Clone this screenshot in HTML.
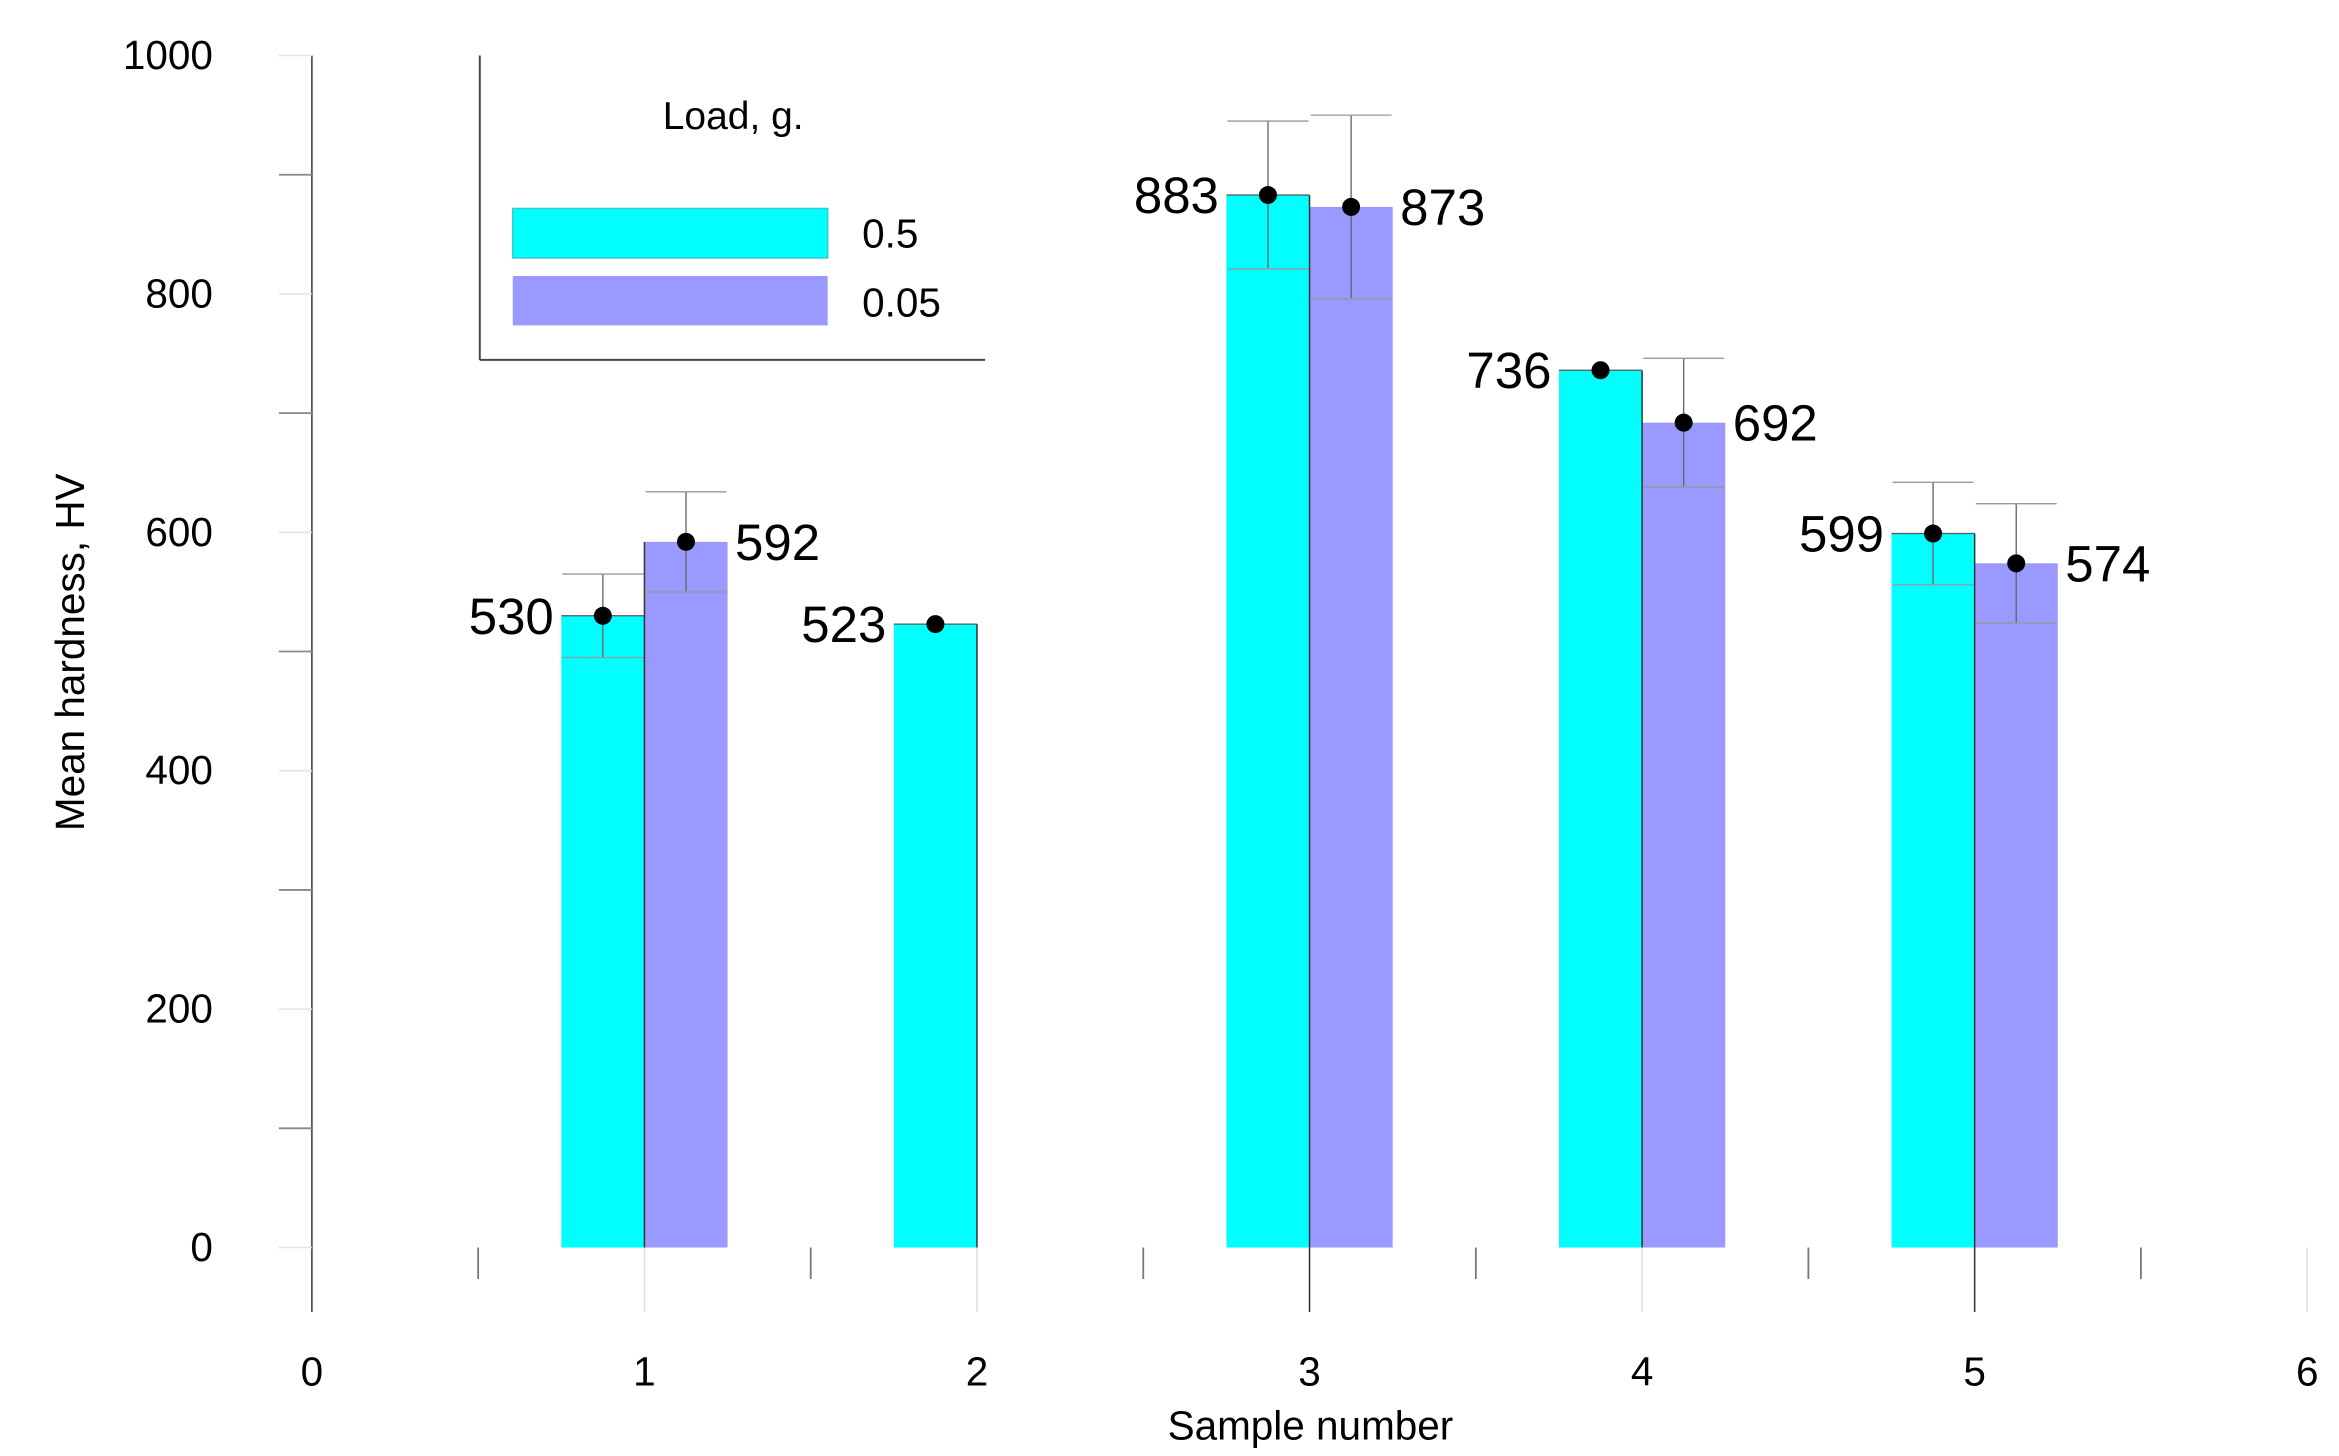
<!DOCTYPE html>
<html><head><meta charset="utf-8"><style>
html,body{margin:0;padding:0;background:#fff;}
svg{display:block;font-family:"Liberation Sans",Arial,sans-serif;}
</style></head><body>
<svg id="chart" width="2339" height="1456" viewBox="0 0 1560 971" xmlns="http://www.w3.org/2000/svg">
<g id="axes"></g>
<g id="bars"></g>
<g id="legend">
  <line x1="320" y1="37" x2="320" y2="240" stroke="#444" stroke-width="1.3"/>
  <line x1="320" y1="240" x2="657" y2="240" stroke="#444" stroke-width="1.3"/>
  <text x="489" y="86" font-size="26" text-anchor="middle">Load, g.</text>
  <rect x="342" y="139" width="210" height="33" fill="#00ffff" stroke="#33cccc" stroke-width="1"/>
  <text x="575" y="165" font-size="27">0.5</text>
  <rect x="342" y="184" width="210" height="33" fill="#9999ff"/>
  <text x="575" y="211" font-size="27">0.05</text>
</g>
<text x="874" y="960" font-size="27" text-anchor="middle">Sample number</text>
<text transform="translate(56,435) rotate(-90)" font-size="27" text-anchor="middle">Mean hardness, HV</text>
</svg>
<script>
const samples = [1, 2, 3, 4, 5];
const hv05 = [530, 523, 883, 736, 599];
const hv005 = [592, null, 873, 692, 574];
const err05 = [35, 0, 62, 0, 43];
const err005 = [42, 0, 77, 54, 50];
const yTicks = [0, 200, 400, 600, 800, 1000];
const xTicks = [0, 1, 2, 3, 4, 5, 6];

const NS = "http://www.w3.org/2000/svg";
const X = v => 208 + v * 221.8;
const Y = v => 832 - v * 0.795;
function mk(tag, attrs, parent, txt) {
  const e = document.createElementNS(NS, tag);
  for (const k in attrs) e.setAttribute(k, attrs[k]);
  if (txt !== undefined) e.textContent = txt;
  parent.appendChild(e);
  return e;
}
const axes = document.getElementById('axes');
const bars = document.getElementById('bars');

let yl = mk('line', {x1: X(0), y1: Y(1000), x2: X(0), y2: 875, stroke: '#555', 'stroke-width': 1.2}, axes);


for (const t of yTicks) {
  const lb = mk('text', {x: 142, y: Y(t) + 9, 'font-size': 27, 'text-anchor': 'end'}, axes, String(t));
  
  
  mk('line', {x1: 186, y1: Y(t), x2: 208, y2: Y(t), stroke: '#e4e4e4', 'stroke-width': 1}, axes);
  if (t < 1000) {
    const m = mk('line', {x1: 186, y1: Y(t + 100), x2: 208, y2: Y(t + 100), stroke: '#888', 'stroke-width': 1.2}, axes);
    
    
  }
}
for (const t of xTicks) {
  const lb = mk('text', {x: X(t), y: 924, 'font-size': 27, 'text-anchor': 'middle'}, axes, String(t));
  
  
  if (t > 0) mk('line', {x1: X(t), y1: 832, x2: X(t), y2: 875, stroke: '#ddd', 'stroke-width': 1}, axes);
  if (t < 6) {
    const h = mk('line', {x1: X(t + 0.5), y1: 832, x2: X(t + 0.5), y2: 853, stroke: '#777', 'stroke-width': 1.2}, axes);
    
    
  }
}

samples.forEach((s, i) => {
  const v1 = hv05[i];
  const b1 = mk('rect', {x: X(s - 0.25), y: Y(v1), width: X(s) - X(s - 0.25), height: Y(0) - Y(v1), fill: '#00ffff'}, bars);
  
  
  const v2 = hv005[i];
  if (v2 !== null) {
    const b2 = mk('rect', {x: X(s), y: Y(v2), width: X(s + 0.25) - X(s), height: Y(0) - Y(v2), fill: '#9999ff'}, bars);
    
    
  }
  const dark = (s === 3 || s === 5);
  mk('line', {x1: X(s), y1: Math.min(Y(v1), v2 !== null ? Y(v2) : Y(v1)), x2: X(s), y2: dark ? 875 : 832, stroke: '#333', 'stroke-width': 1}, bars);
  mk('line', {x1: X(s - 0.25), y1: Y(v1), x2: X(s), y2: Y(v1), stroke: '#555', 'stroke-width': 0.8}, bars);
  const series = [[v1, err05[i], s - 0.125, 'load-0-5'], [v2, err005[i], s + 0.125, 'load-0-05']];
  for (const [v, e, xp, nm] of series) {
    if (v === null) continue;
    if (e > 0) {
      mk('line', {x1: X(xp), y1: Y(v + e), x2: X(xp), y2: Y(v - e), stroke: '#666', 'stroke-width': 0.9}, bars);
      mk('line', {x1: X(xp) - 27, y1: Y(v + e), x2: X(xp) + 27, y2: Y(v + e), stroke: '#999', 'stroke-width': 0.9}, bars);
      mk('line', {x1: X(xp) - 27, y1: Y(v - e), x2: X(xp) + 27, y2: Y(v - e), stroke: '#999', 'stroke-width': 0.9}, bars);
    }
    const d = mk('circle', {cx: X(xp), cy: Y(v), r: 6, fill: '#000'}, bars);
    
    
  }
  const l1 = mk('text', {x: X(s - 0.25) - 5, y: Y(v1) + 12, 'font-size': 34, 'text-anchor': 'end'}, bars, String(v1));
  
  
  if (v2 !== null) {
    const l2 = mk('text', {x: X(s + 0.25) + 5, y: Y(v2) + 12, 'font-size': 34, 'text-anchor': 'start'}, bars, String(v2));
    
    
  }
});
</script>
</body></html>
